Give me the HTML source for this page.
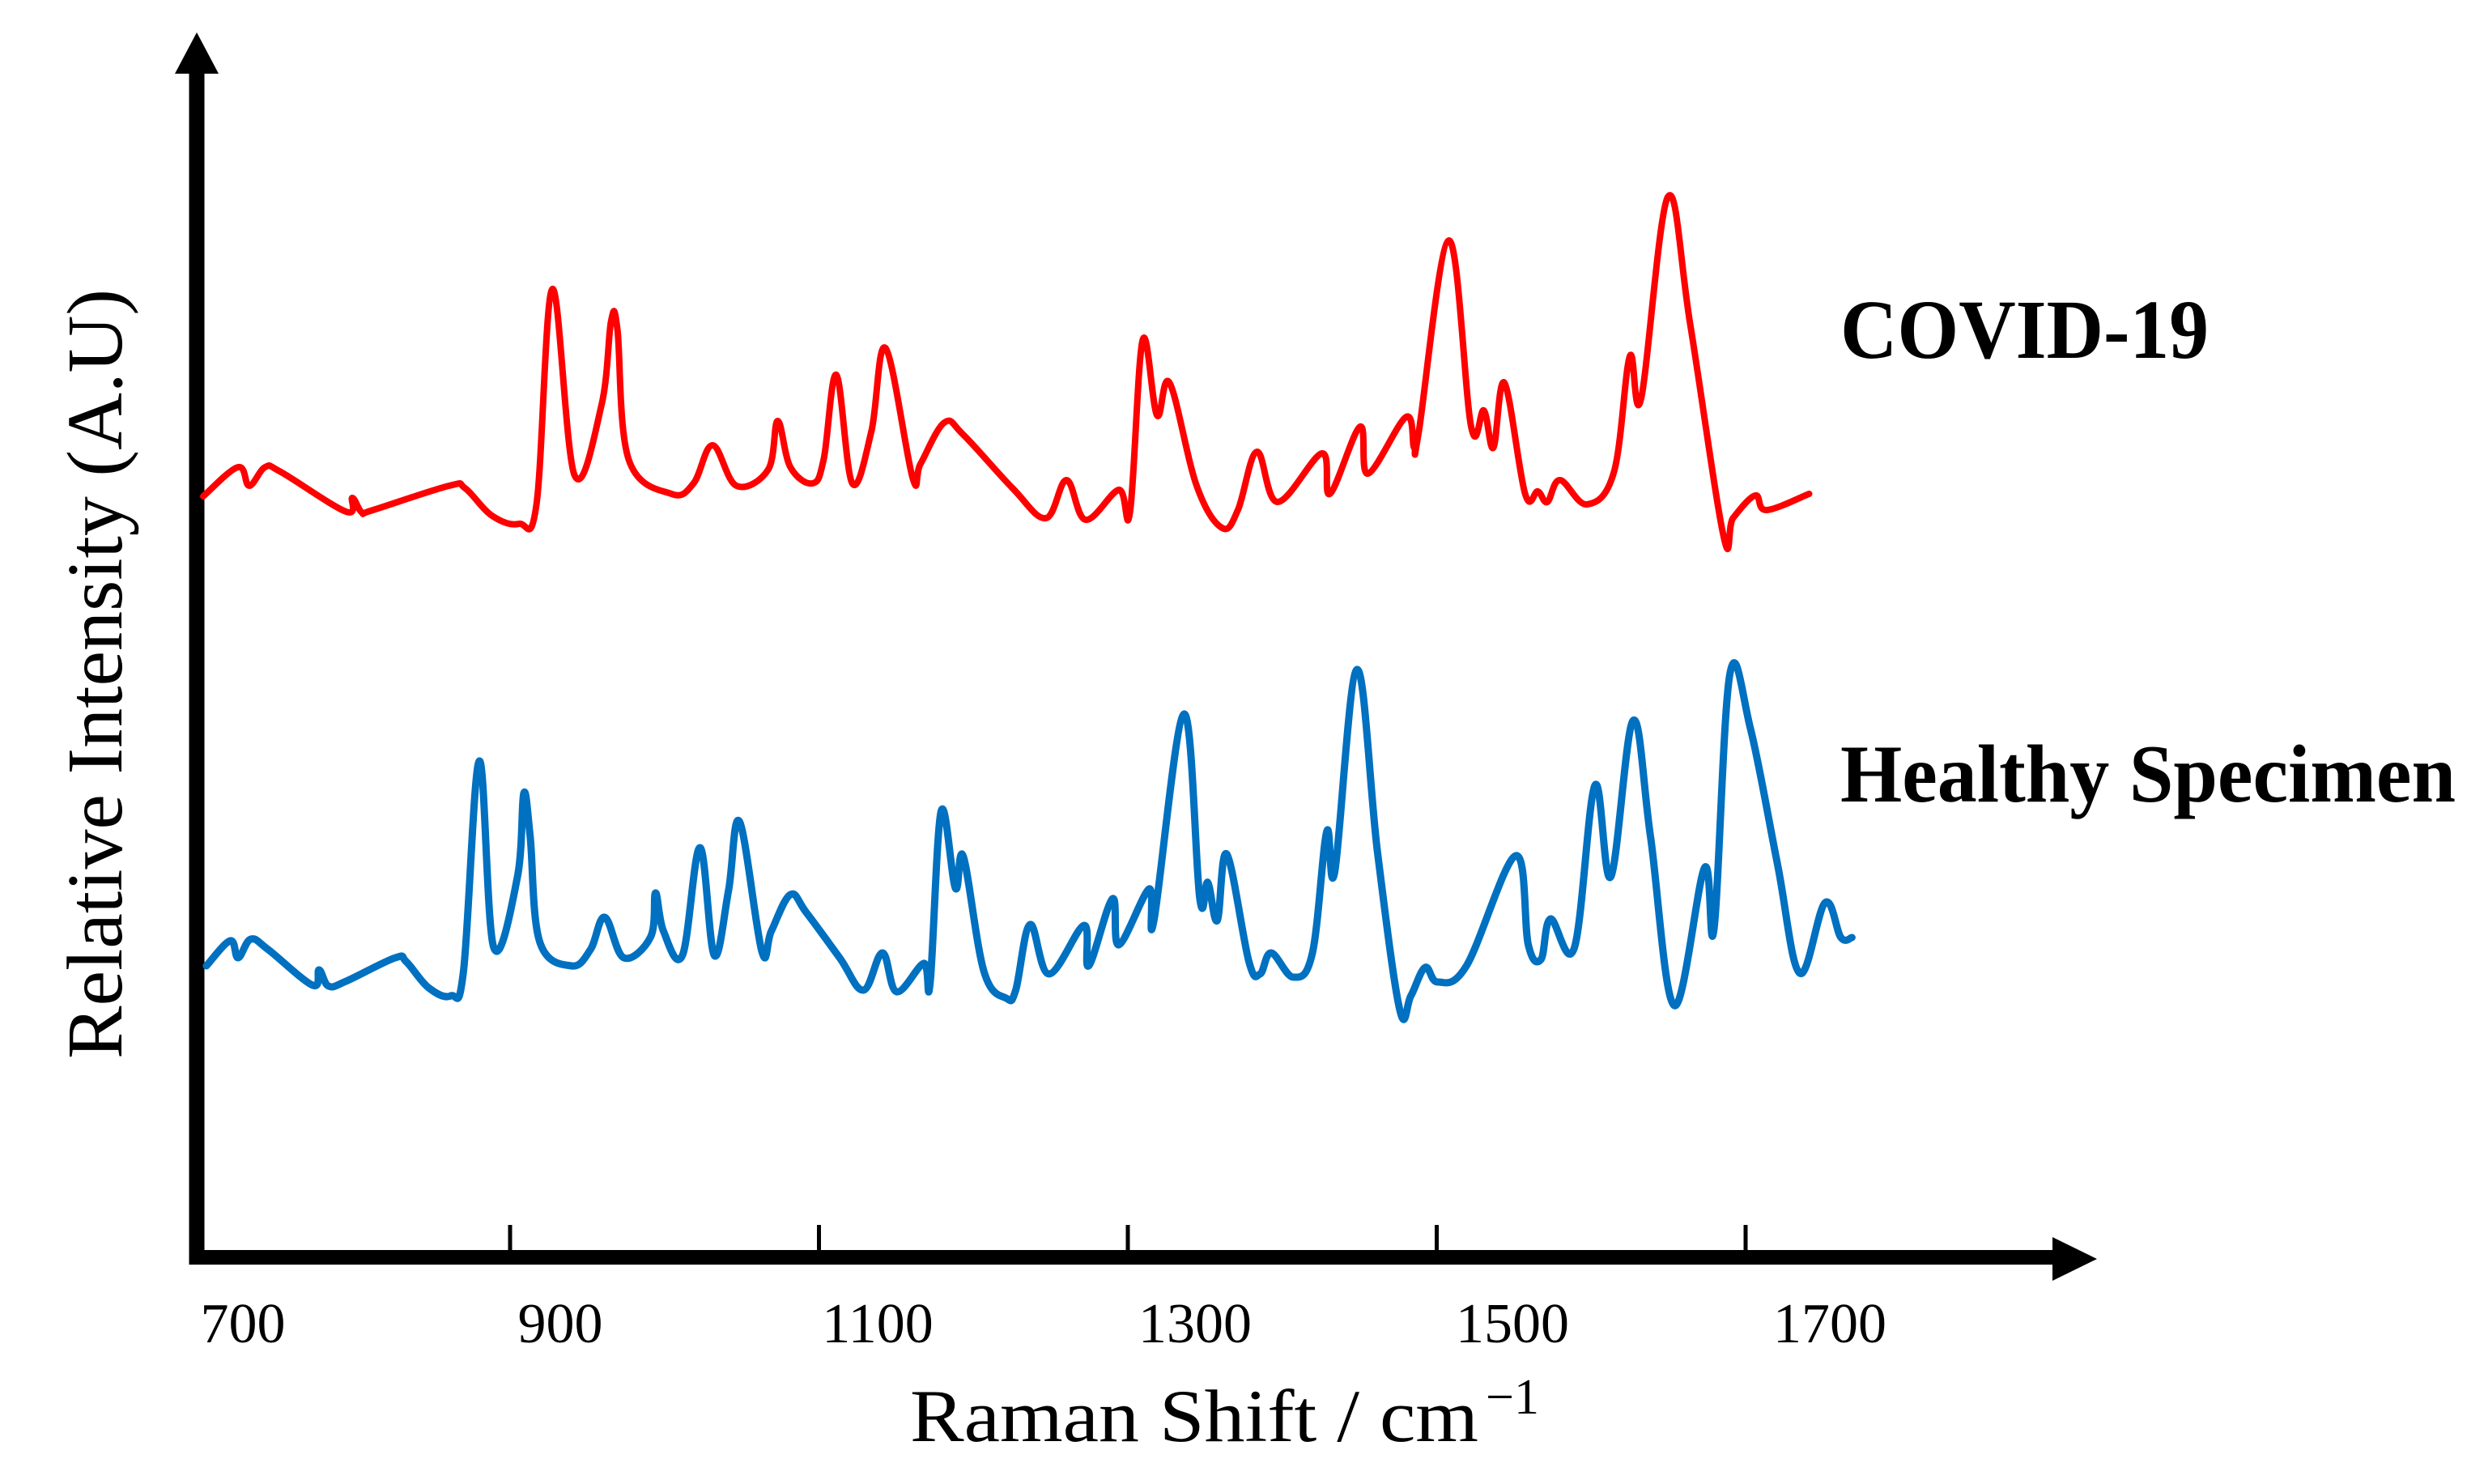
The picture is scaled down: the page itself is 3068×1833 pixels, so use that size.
<!DOCTYPE html>
<html>
<head>
<meta charset="utf-8">
<style>
html,body{margin:0;padding:0;background:#fff;}
svg{display:block;}
</style>
</head>
<body>
<svg id="chart" width="3068" height="1833" viewBox="0 0 3068 1833" xmlns="http://www.w3.org/2000/svg">
  <rect width="3068" height="1833" fill="#fff"/>
  <g id="axes">
    <line x1="243" y1="1562" x2="243" y2="88" stroke="#000" stroke-width="19"/>
    <polygon points="216,91 243,40 270,91" fill="#000"/>
    <line x1="234" y1="1553" x2="2540" y2="1553" stroke="#000" stroke-width="18"/>
    <polygon points="2535,1528 2590,1555 2535,1582" fill="#000"/>
  </g>
  <g id="ticks"></g>
  <g id="ticklabels" font-family="Liberation Serif, serif" font-size="70" fill="#000"></g>
  <g id="series"></g>
  <text x="1124" y="1780" font-family="Liberation Serif, serif" font-size="92" fill="#000" textLength="702" lengthAdjust="spacingAndGlyphs">Raman Shift / cm</text>
  <text x="1835" y="1746" font-family="Liberation Serif, serif" font-size="62" fill="#000">−1</text>
  <text transform="translate(150,1308) rotate(-90)" x="0" y="0" font-family="Liberation Serif, serif" font-size="98" fill="#000" textLength="951" lengthAdjust="spacingAndGlyphs">Relative Intensity (A.U)</text>
  <text x="2273" y="442" font-family="Liberation Serif, serif" font-weight="bold" font-size="104" fill="#000" textLength="455" lengthAdjust="spacingAndGlyphs">COVID-19</text>
  <text x="2273" y="990" font-family="Liberation Serif, serif" font-weight="bold" font-size="102" fill="#000" textLength="760" lengthAdjust="spacingAndGlyphs">Healthy Specimen</text>
</svg>
<script>
// Tick label values
const tickLabels = [700, 900, 1100, 1300, 1500, 1700];
// Tick mark values
const tickValues = [900, 1100, 1300, 1500, 1700];

// COVID-19 spectrum: wavenumber (cm-1) and relative intensity (A.U.)
const covidShift = [675,697,704,714,724,765,769,775,782,830,840,857,874,885,895,909,926,932,936,943,970,984,996,1011,1031,1037,1045,1059,1066,1074,1084,1096,1105,1122,1127,1142,1154,1185,1206,1219,1231,1252,1259,1267,1276,1284,1301,1317,1327,1339,1352,1380,1385,1404,1409,1433,1438,1441,1460,1474,1482,1488,1495,1508,1516,1522,1530,1547,1564,1574,1581,1598,1612,1633,1639,1653,1660,1687];
const covidIntensity = [94.0,97.6,95.3,97.6,97.0,92.1,93.8,92.0,92.3,95.3,95.0,91.6,90.6,93.0,119.6,96.6,105.3,115.6,114.6,98.6,94.3,95.6,100.3,95.3,97.3,103.3,97.6,95.6,98.6,109.0,95.6,102.0,112.3,96.3,98.0,103.1,101.6,95.0,91.3,96.0,91.1,94.8,92.0,113.3,104.0,108.0,95.3,90.1,92.3,99.5,93.3,99.3,94.3,102.6,96.8,103.8,100.0,102.0,125.6,102.6,104.6,100.0,108.0,94.3,94.6,93.3,96.0,93.0,97.0,111.3,106.0,131.0,115.3,89.1,91.3,94.1,92.3,94.3];

// Healthy specimen spectrum
const healthyShift = [677,692,697,705,716,744,748,754,765,796,803,817,831,839,849,858,873,877,881,887,907,919,928,940,957,960,965,977,988,997,1006,1013,1027,1033,1045,1055,1076,1091,1103,1112,1129,1133,1140,1149,1154,1167,1181,1187,1196,1208,1230,1233,1248,1252,1271,1274,1293,1303,1308,1314,1320,1334,1341,1348,1362,1374,1383,1388,1402,1415,1429,1436,1445,1453,1471,1502,1510,1518,1524,1539,1552,1562,1576,1587,1602,1621,1627,1637,1650,1667,1681,1697,1707,1714];
const healthyIntensity = [36.0,39.1,37.0,39.3,38.0,33.6,35.5,33.5,34.1,37.0,36.5,33.3,32.3,35.3,61.3,38.3,47.0,57.3,52.0,39.0,36.0,38.0,42.0,37.0,39.6,45.0,40.3,37.3,50.6,37.3,45.3,53.8,37.8,40.3,44.8,42.6,37.0,33.0,37.6,32.8,36.3,33.8,55.1,45.6,49.5,35.3,32.0,33.0,41.1,35.0,41.0,36.0,44.3,38.6,45.5,41.5,67.1,44.3,46.3,41.6,49.8,36.5,35.0,37.6,34.6,37.6,52.6,47.6,72.6,50.0,30.6,32.3,35.8,34.0,36.0,49.6,38.6,36.8,41.8,38.2,58.3,47.0,66.3,52.0,31.1,48.1,40.5,72.0,65.3,48.6,35.1,43.8,39.5,39.5];

const NS = 'http://www.w3.org/2000/svg';
function xScale(v){ return 300 + (v - 700) * 1.96; }
function tickScale(v){ return 630 + (v - 900) * 1.9075; }
function yScale(i){ return 1553 - i * 10; }

const tickG = document.getElementById('ticks');
tickValues.forEach(function(v){
  const l = document.createElementNS(NS, 'line');
  
  
  l.setAttribute('x1', tickScale(v)); l.setAttribute('x2', tickScale(v));
  l.setAttribute('y1', 1513); l.setAttribute('y2', 1553);
  l.setAttribute('stroke', '#000'); l.setAttribute('stroke-width', 5);
  tickG.appendChild(l);
});
const labG = document.getElementById('ticklabels');
tickLabels.forEach(function(v){
  const t = document.createElementNS(NS, 'text');
  
  
  t.setAttribute('x', xScale(v)); t.setAttribute('y', 1658);
  t.setAttribute('text-anchor', 'middle');
  t.textContent = v;
  labG.appendChild(t);
});

function smoothPath(xs, ys){
  const p = xs.map(function(v, k){ return [xScale(v), yScale(ys[k])]; });
  let d = 'M' + p[0][0].toFixed(1) + ',' + p[0][1].toFixed(1);
  for (let k = 0; k < p.length - 1; k++){
    const p0 = p[k-1] || p[k], p1 = p[k], p2 = p[k+1], p3 = p[k+2] || p[k+1];
    const t = 0.18;
    const c1 = [p1[0] + (p2[0]-p0[0])*t, p1[1] + (p2[1]-p0[1])*t];
    const c2 = [p2[0] - (p3[0]-p1[0])*t, p2[1] - (p3[1]-p1[1])*t];
    d += ' C' + c1[0].toFixed(1)+','+c1[1].toFixed(1)+' '+c2[0].toFixed(1)+','+c2[1].toFixed(1)+' '+p2[0].toFixed(1)+','+p2[1].toFixed(1);
  }
  return d;
}
const sg = document.getElementById('series');
const red = document.createElementNS(NS, 'path');


red.setAttribute('d', smoothPath(covidShift, covidIntensity));
red.setAttribute('fill', 'none'); red.setAttribute('stroke', '#ff0000');
red.setAttribute('stroke-width', 8); red.setAttribute('stroke-linejoin', 'round'); red.setAttribute('stroke-linecap', 'round');
sg.appendChild(red);
const blue = document.createElementNS(NS, 'path');


blue.setAttribute('d', smoothPath(healthyShift, healthyIntensity));
blue.setAttribute('fill', 'none'); blue.setAttribute('stroke', '#0070c0');
blue.setAttribute('stroke-width', 9); blue.setAttribute('stroke-linejoin', 'round'); blue.setAttribute('stroke-linecap', 'round');
sg.appendChild(blue);
</script>
</body>
</html>
